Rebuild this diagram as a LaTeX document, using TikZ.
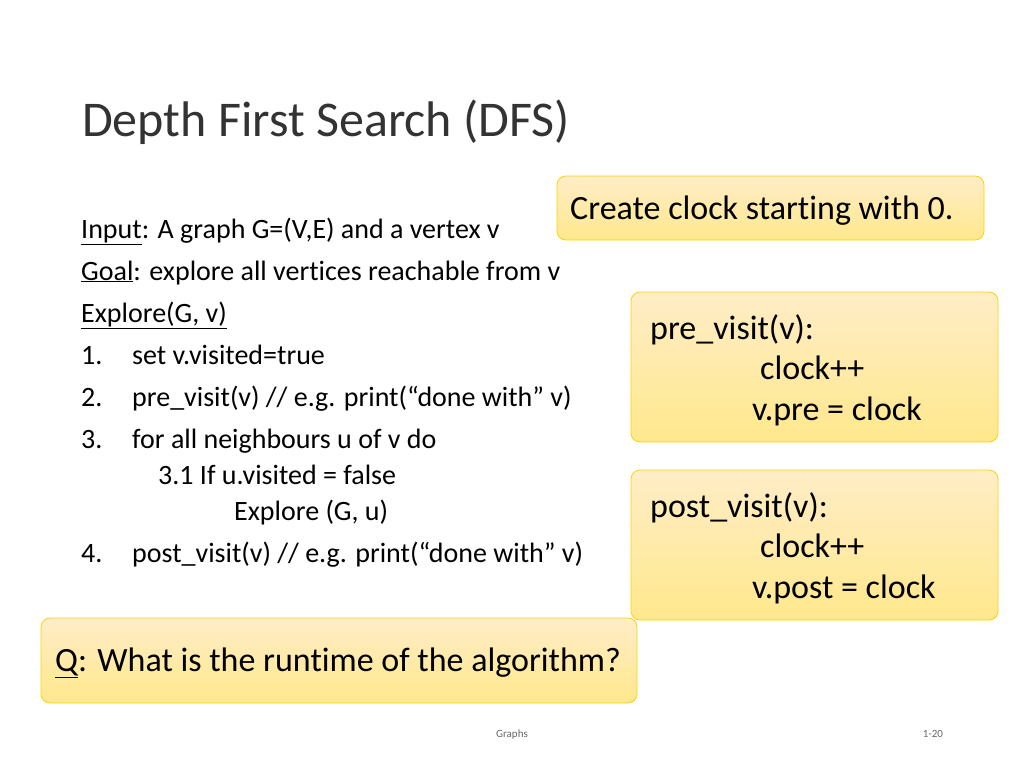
\documentclass[tikz,border=0pt]{standalone}
\usepackage{fontspec}
\setmainfont[Ligatures={NoCommon}]{Carlito}
\usetikzlibrary{shadows}
\begin{document}
\begin{tikzpicture}[x=1pt,y=-1pt,
  txt/.style={anchor=base west,inner sep=0pt,font=\fontsize{28}{32}\selectfont},
  btxt/.style={anchor=base west,inner sep=0pt,font=\fontsize{34}{38}\selectfont},
  note/.style={draw=yellow!70!orange,line width=0.8pt,rounded corners=9pt,top color=yellow!35!orange!22!white,bottom color=yellow!60!orange!45!white}]
\useasboundingbox (0,0) rectangle (1024,768);
\node[anchor=base west,inner sep=0pt,font=\fontsize{50}{56}\selectfont,text=black!80] (title) at (82,136) {Depth First Search (DFS)};
\node[txt] (l1) at (81,238) {\underline{Input}: A graph G=(V,E) and a vertex v};
\node[txt] (l2) at (81,280) {\underline{Goal}: explore all vertices reachable from v};
\node[txt] (l3) at (81,322) {\underline{Explore(G, v)}};
\node[txt] (n1) at (81,364) {1.}; \node[txt] (s1) at (132,364) {set v.visited=true};
\node[txt] (n2) at (81,406) {2.}; \node[txt] (s2) at (132,406) {pre\_visit(v) // e.g. print(“done with” v)};
\node[txt] (n3) at (81,448) {3.}; \node[txt] (s3) at (132,448) {for all neighbours u of v do};
\node[txt] (s31) at (158,484) {3.1 If u.visited = false};
\node[txt] (s32) at (234,520) {Explore (G, u)};
\node[txt] (n4) at (81,562) {4.}; \node[txt] (s4) at (132,562) {post\_visit(v) // e.g. print(“done with” v)};
\path[note] (557,176) rectangle (984,240);
\node[btxt] (c) at (570,219) {Create clock starting with 0.};
\path[note] (631,292) rectangle (998,442);
\node[btxt] (p1) at (650,339) {pre\_visit(v):};
\node[btxt] (p2) at (760,379) {clock++};
\node[btxt] (p3) at (752,420) {v.pre = clock};
\path[note] (631,470) rectangle (998,620);
\node[btxt] (q1) at (650,517) {post\_visit(v):};
\node[btxt] (q2) at (760,557) {clock++};
\node[btxt] (q3) at (752,598) {v.post = clock};
\path[note] (41,618) rectangle (637,703);
\node[btxt] (q) at (55,671) {\underline{Q}: What is the runtime of the algorithm?};
\node[anchor=base,inner sep=0pt,font=\fontsize{11}{13}\selectfont,text=black!60] (f1) at (512,737) {Graphs};
\node[anchor=base,inner sep=0pt,font=\fontsize{11}{13}\selectfont,text=black!60] (f2) at (933,737) {1-20};
\end{tikzpicture}
\end{document}
